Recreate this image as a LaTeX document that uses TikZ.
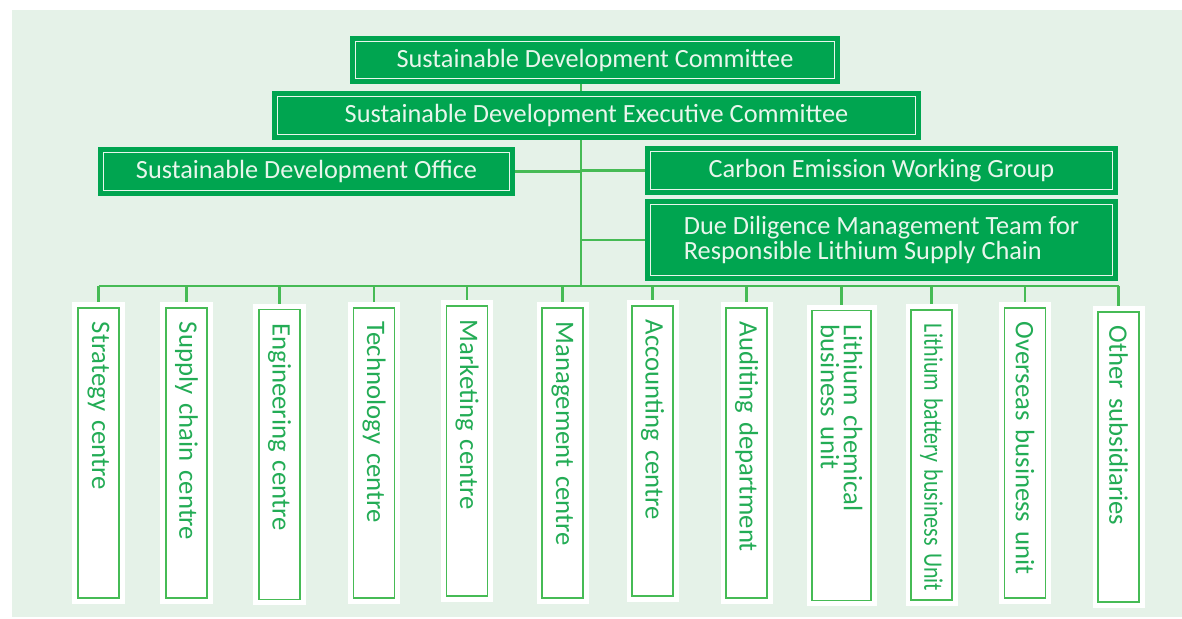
\documentclass[tikz,border=0pt]{standalone}
\usepackage{fontspec}
\usepackage{graphicx}
\setmainfont{Carlito}
\usetikzlibrary{backgrounds}
\definecolor{bgGreen}{RGB}{229,242,232}
\definecolor{boxGreen}{RGB}{0,165,80}
\definecolor{lineGreen}{RGB}{70,187,85}
\definecolor{textGreen}{RGB}{35,172,85}
\definecolor{paleText}{RGB}{232,246,236}

\begin{document}
\begin{tikzpicture}[x=0.025cm,y=-0.025cm,
		topbox/.style={fill=boxGreen, draw=paleText, line width=0.7pt, text=paleText,
			inner sep=0pt, preaction={draw=boxGreen, line width=0.275cm},
			font=\fontsize{18.7pt}{18.4pt}\selectfont},
		unitbox/.style={rotate=-90, fill=white, draw=lineGreen, line width=0.8pt, text=textGreen,
			minimum width=7.25cm, minimum height=1.025cm, inner xsep=0.35cm, inner ysep=0pt,
			text width=6.55cm, align=left, preaction={draw=white, line width=0.275cm},
			font=\fontsize{19pt}{16.3pt}\selectfont},
		conn/.style={draw=lineGreen, line width=1.8pt}]
			\useasboundingbox (0,0) rectangle (1182,618);
			
			% Committees and groups
			\node[topbox, minimum width=11.975cm, minimum height=0.925cm] (sdc) at (595,60) {Sustainable Development Committee};
			\node[topbox, minimum width=15.95cm, minimum height=0.95cm] (exec) at (596.5,115.5) {Sustainable Development Executive Committee};
			\node[topbox, minimum width=10.15cm, minimum height=0.95cm] (office) at (306.5,171.5) {Sustainable Development Office};
			\node[topbox, minimum width=11.55cm, minimum height=0.95cm] (carbon) at (881.5,170.5) {Carbon Emission Working Group};
			\node[topbox, minimum width=11.55cm, minimum height=1.775cm, align=left] (due) at (881.5,240) {Due Diligence Management Team for\\Responsible Lithium Supply Chain};
			
			\coordinate (hub) at (581,286);
			
			% Centres and units
			\node[unitbox] (c1) at (98.5,453) {Strategy centre};
			\node[unitbox] (c2) at (186.5,453) {Supply chain centre};
			\node[unitbox] (c3) at (279.5,454.5) {Engineering centre};
			\node[unitbox] (c4) at (374,453) {Technology centre};
			\node[unitbox] (c5) at (467,451) {Marketing centre};
			\node[unitbox] (c6) at (562.5,453) {Management centre};
			\node[unitbox] (c7) at (652.5,451) {Accounting centre};
			\node[unitbox] (c8) at (746.5,453) {Auditing department};
			\node[unitbox, minimum height=1.475cm] (c9) at (841.5,455.5) {Lithium chemical\\business unit};
			\node[unitbox] (c10) at (931.5,455) {\scalebox{0.82}[1]{Lithium battery business Unit}};
			\node[unitbox] (c11) at (1025,453) {Overseas business unit};
			\node[unitbox] (c12) at (1118.5,457) {Other subsidiaries};
			
			\begin{scope}[on background layer]
				\fill[bgGreen] (12,10) rectangle (1182,617);
				
				% Trunk and branches
				\draw[conn] (sdc.south -| hub) -- (hub);
				\draw[conn] (office.east) -- (office.east -| hub);
				\draw[conn] (carbon.west) -- (carbon.west -| hub);
				\draw[conn] (due.west) -- (due.west -| hub);
				
				% Bus and drops
				\draw[conn] (c1.west |- hub) -- (c12.west |- hub);
				\draw[conn] (c1.west |- hub) -- (c1.west) (c2.west |- hub) -- (c2.west)
					(c3.west |- hub) -- (c3.west) (c4.west |- hub) -- (c4.west)
					(c5.west |- hub) -- (c5.west) (c6.west |- hub) -- (c6.west)
					(c7.west |- hub) -- (c7.west) (c8.west |- hub) -- (c8.west)
					(c9.west |- hub) -- (c9.west) (c10.west |- hub) -- (c10.west)
					(c11.west |- hub) -- (c11.west) (c12.west |- hub) -- (c12.west);
			\end{scope}
	\end{tikzpicture}
\end{document}
